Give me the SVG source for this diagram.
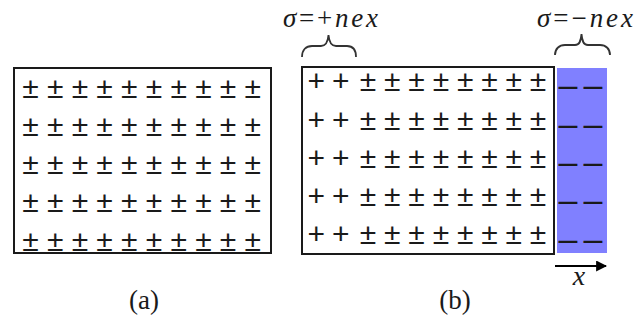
<svg xmlns="http://www.w3.org/2000/svg" width="634" height="320" viewBox="0 0 634 320">
<defs>
<style>
.pm{font-family:"Liberation Sans",Arial,sans-serif;font-size:30px;fill:#1a1a1a;text-anchor:middle}
.mn{font-family:"Liberation Sans",Arial,sans-serif;font-size:34px;fill:#1a1a1a;text-anchor:middle}
.lbl{font-family:"Liberation Serif","Times New Roman",serif;fill:#1a1a1a}
.box{fill:#fff;stroke:#1a1a1a;stroke-width:2}
.brace{fill:none;stroke:#333;stroke-width:1.8}
</style>
<marker id="ah" viewBox="0 0 10 10" refX="9" refY="5" markerWidth="5.5" markerHeight="5.5" orient="auto" markerUnits="strokeWidth"><path d="M0,0 L10,5 L0,10 z" fill="#000"/></marker>
</defs>
<rect width="634" height="320" fill="#fff"/>

<g id="panel-a">
<rect class="box" x="14" y="68" width="257" height="185"/>
<g class="pm">
<text y="97.5"><tspan x="30.5">±</tspan><tspan x="55.2">±</tspan><tspan x="79.9">±</tspan><tspan x="104.6">±</tspan><tspan x="129.3">±</tspan><tspan x="154">±</tspan><tspan x="178.7">±</tspan><tspan x="203.4">±</tspan><tspan x="228.1">±</tspan><tspan x="252.8">±</tspan></text>
<text y="135.8"><tspan x="30.5">±</tspan><tspan x="55.2">±</tspan><tspan x="79.9">±</tspan><tspan x="104.6">±</tspan><tspan x="129.3">±</tspan><tspan x="154">±</tspan><tspan x="178.7">±</tspan><tspan x="203.4">±</tspan><tspan x="228.1">±</tspan><tspan x="252.8">±</tspan></text>
<text y="174.1"><tspan x="30.5">±</tspan><tspan x="55.2">±</tspan><tspan x="79.9">±</tspan><tspan x="104.6">±</tspan><tspan x="129.3">±</tspan><tspan x="154">±</tspan><tspan x="178.7">±</tspan><tspan x="203.4">±</tspan><tspan x="228.1">±</tspan><tspan x="252.8">±</tspan></text>
<text y="212.4"><tspan x="30.5">±</tspan><tspan x="55.2">±</tspan><tspan x="79.9">±</tspan><tspan x="104.6">±</tspan><tspan x="129.3">±</tspan><tspan x="154">±</tspan><tspan x="178.7">±</tspan><tspan x="203.4">±</tspan><tspan x="228.1">±</tspan><tspan x="252.8">±</tspan></text>
<text y="250.7"><tspan x="30.5">±</tspan><tspan x="55.2">±</tspan><tspan x="79.9">±</tspan><tspan x="104.6">±</tspan><tspan x="129.3">±</tspan><tspan x="154">±</tspan><tspan x="178.7">±</tspan><tspan x="203.4">±</tspan><tspan x="228.1">±</tspan><tspan x="252.8">±</tspan></text>
</g>
<text class="lbl" x="144" y="309" font-size="27" text-anchor="middle">(a)</text>
</g>

<g id="panel-b">
<rect class="box" x="302" y="67" width="252" height="187"/>
<rect id="charge-layer" x="557" y="68" width="50" height="185" fill="#8080ff"/>
<g class="pm">
<text y="91"><tspan x="316.3">+</tspan><tspan x="340.7">+</tspan><tspan x="368">±</tspan><tspan x="392.3">±</tspan><tspan x="416.6">±</tspan><tspan x="440.9">±</tspan><tspan x="465.2">±</tspan><tspan x="489.5">±</tspan><tspan x="513.8">±</tspan><tspan x="538.1">±</tspan></text>
<text y="129.5"><tspan x="316.3">+</tspan><tspan x="340.7">+</tspan><tspan x="368">±</tspan><tspan x="392.3">±</tspan><tspan x="416.6">±</tspan><tspan x="440.9">±</tspan><tspan x="465.2">±</tspan><tspan x="489.5">±</tspan><tspan x="513.8">±</tspan><tspan x="538.1">±</tspan></text>
<text y="168"><tspan x="316.3">+</tspan><tspan x="340.7">+</tspan><tspan x="368">±</tspan><tspan x="392.3">±</tspan><tspan x="416.6">±</tspan><tspan x="440.9">±</tspan><tspan x="465.2">±</tspan><tspan x="489.5">±</tspan><tspan x="513.8">±</tspan><tspan x="538.1">±</tspan></text>
<text y="206"><tspan x="316.3">+</tspan><tspan x="340.7">+</tspan><tspan x="368">±</tspan><tspan x="392.3">±</tspan><tspan x="416.6">±</tspan><tspan x="440.9">±</tspan><tspan x="465.2">±</tspan><tspan x="489.5">±</tspan><tspan x="513.8">±</tspan><tspan x="538.1">±</tspan></text>
<text y="244"><tspan x="316.3">+</tspan><tspan x="340.7">+</tspan><tspan x="368">±</tspan><tspan x="392.3">±</tspan><tspan x="416.6">±</tspan><tspan x="440.9">±</tspan><tspan x="465.2">±</tspan><tspan x="489.5">±</tspan><tspan x="513.8">±</tspan><tspan x="538.1">±</tspan></text>
</g>
<g class="mn">
<text y="95.5"><tspan x="568">–</tspan><tspan x="593">–</tspan></text>
<text y="134.5"><tspan x="568">–</tspan><tspan x="593">–</tspan></text>
<text y="172.5"><tspan x="568">–</tspan><tspan x="593">–</tspan></text>
<text y="210.5"><tspan x="568">–</tspan><tspan x="593">–</tspan></text>
<text y="249.5"><tspan x="568">–</tspan><tspan x="593">–</tspan></text>
</g>
<path class="brace" d="M302,57 C302,50 306,46 312,46 L321,46 C326,46 328,41 328.5,35 C329,41 331,46 336,46 L347,46 C353,46 356,50 356,57"/>
<path class="brace" d="M555,55 C555,49 559,45 565,45 L575,45 C580,45 581,40 581.5,34 C582,40 583,45 588,45 L600,45 C606,45 610,49 610,55"/>
<text class="lbl" x="283" y="27" font-size="27" textLength="95" lengthAdjust="spacing"><tspan font-style="italic">σ</tspan>=+<tspan font-style="italic">nex</tspan></text>
<text class="lbl" x="537" y="27" font-size="27" textLength="96" lengthAdjust="spacing"><tspan font-style="italic">σ</tspan>=−<tspan font-style="italic">nex</tspan></text>
<text class="lbl" x="455" y="309" font-size="27" text-anchor="middle">(b)</text>
</g>

<g id="connectors">
<line x1="555" y1="266" x2="606" y2="266" stroke="#000" stroke-width="2" marker-end="url(#ah)"/>
</g>
<text class="lbl" x="579" y="285" font-size="28" font-style="italic" text-anchor="middle">x</text>
</svg>
